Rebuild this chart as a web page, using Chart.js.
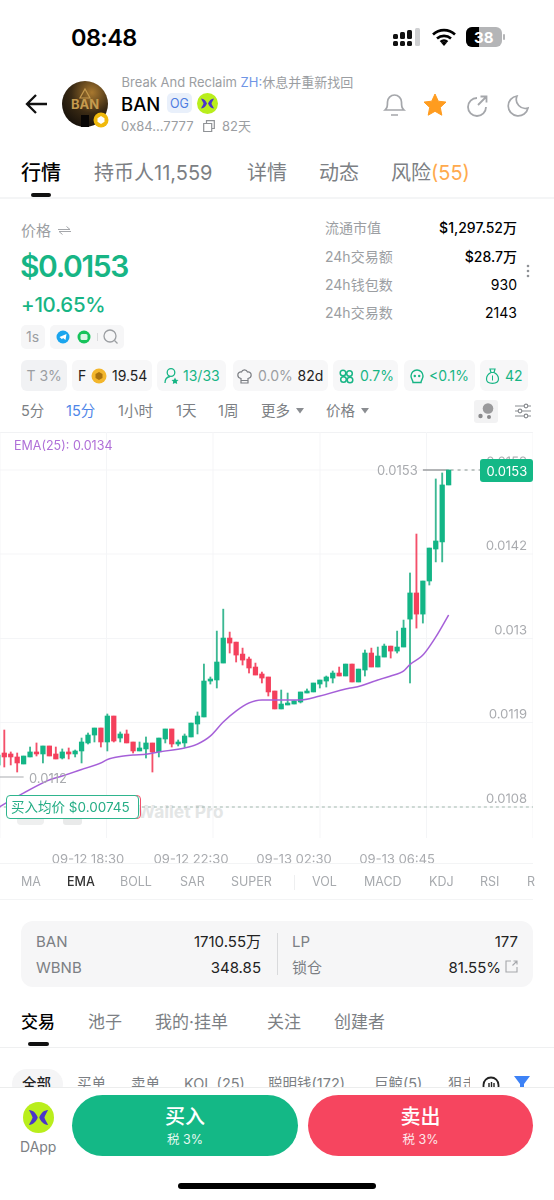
<!DOCTYPE html>
<html lang="zh"><head><meta charset="utf-8">
<script src="https://cdn.jsdelivr.net/npm/chart.js@4"></script>
<style>
html,body{margin:0;padding:0;background:#fff}
body{position:relative;width:554px;height:1200px;overflow:hidden;font-family:Inter,"Noto Sans CJK SC",sans-serif;color:#000}
.t{position:absolute;line-height:1;white-space:nowrap;transform:translateY(-50%)}
.r{position:absolute;line-height:1;white-space:nowrap;transform:translateY(-50%);text-align:right}
.g{color:#9b9ea2}.m{color:#7c7f84}.gr{color:#17b585}.b{position:absolute}
svg{position:absolute;overflow:visible}
#chartBox{position:absolute;left:0;top:432px;width:533px;height:434px}
</style></head><body>

<!-- status bar -->
<div class="t" style="left:71px;top:38px;font-size:23.5px;font-weight:600;letter-spacing:-.6px">08:48</div>
<svg style="left:393px;top:28px" width="27" height="18"><g fill="#111"><rect x="0" y="6" width="5" height="5" rx="1.5"/><rect x="7" y="4" width="5" height="7" rx="1.5"/><rect x="14" y="2" width="5" height="9" rx="1.5"/><rect x="0" y="13" width="5" height="5" rx="1.5"/><rect x="7" y="13" width="5" height="5" rx="1.5"/><rect x="14" y="13" width="5" height="5" rx="1.5"/></g><rect x="22" y="0" width="5" height="18" rx="1.5" fill="#cfd0d2"/></svg>
<svg style="left:432px;top:28px" width="24" height="18" viewBox="0 0 24 18"><path d="M1 6.5a16 16 0 0 1 22 0M5 10.5a10.5 10.5 0 0 1 14 0M8.6 14a5 5 0 0 1 6.8 0" fill="none" stroke="#000" stroke-width="2.6"/><path d="M12 18l-2.6-3a3.5 3.5 0 0 1 5.2 0z" fill="#000"/></svg>
<div class="b" style="left:466px;top:27px;width:36px;height:20px;border-radius:6px;background:#b4b5b7;overflow:hidden"><div class="b" style="left:0;top:0;width:13px;height:20px;background:#000"></div></div>
<div class="b" style="left:503px;top:34px;width:2px;height:6px;border-radius:1px;background:#b4b5b7"></div>
<div class="t" style="left:474px;top:37px;font-size:15px;font-weight:700;color:#fff">38</div>

<!-- header -->
<svg style="left:25px;top:93px" width="22" height="22" viewBox="0 0 22 22"><path d="M22 11H2M11 2l-9 9 9 9" fill="none" stroke="#111" stroke-width="2.3"/></svg>
<svg style="left:62px;top:81px" width="48" height="48" viewBox="0 0 48 48"><defs><radialGradient id="av" cx="0.65" cy="0.25" r="0.9"><stop offset="0" stop-color="#a8782f"/><stop offset="0.5" stop-color="#3a2a14"/><stop offset="1" stop-color="#0d0a08"/></radialGradient></defs><circle cx="23" cy="23" r="23" fill="url(#av)"/><text x="23" y="28" font-size="13" font-weight="700" text-anchor="middle" fill="#c59a4e" font-family="Inter">BAN</text><path d="M23 8l5 9h-10z" fill="none" stroke="#c59a4e" stroke-width="1.2"/><path d="M19 46v-12h8v12z" fill="#080605"/><circle cx="39" cy="39" r="7.5" fill="#f0b90b"/><path d="M39 35l3.5 2.2v3.6L39 43l-3.5-2.2v-3.6z" fill="#fff"/></svg>
<div class="t g" style="left:121.5px;top:82px;font-size:13px">Break And Reclaim <span style="color:#6f95e6">ZH:</span>休息并重新找回</div>
<div class="t" style="left:121px;top:104px;font-size:18.5px;font-weight:500">BAN</div>
<div class="b" style="left:167px;top:93px;width:25px;height:20px;border-radius:5px;background:#e9f0fb"></div>
<div class="t" style="left:170px;top:104px;font-size:12.5px;color:#4d7ce0">OG</div>
<svg style="left:197px;top:93px" width="21" height="21" viewBox="0 0 21 21"><circle cx="10.5" cy="10.5" r="10.5" fill="#b9ee1c"/><path d="M4 5.5c3 0 5 2.500 6 5-1 2.500-3 5-6 5 1-2 2-3.500 2.500-5C6 9 5 7.500 4 5.500zM17 5.500c-3 0-5 2.500-6 5 1 2.500 3 5 6 5-1-2-2-3.500-2.500-5 .5-1.500 1.500-3 2.500-5z" fill="#4a35c9"/></svg>
<div class="t g" style="left:121px;top:126px;font-size:13px">0x84...7777</div>
<svg style="left:203px;top:120px" width="12" height="12" viewBox="0 0 12 12"><path d="M3.500 3V.7h7.800v7.800H9M.7 3.500h8v8h-8z" fill="none" stroke="#8f9296" stroke-width="1.200"/></svg>
<div class="t g" style="left:222px;top:126px;font-size:13px">82天</div>
<svg style="left:384px;top:93px" width="21" height="23" viewBox="0 0 21 23"><path d="M1 17h19c-2-2-2.500-3-2.500-8a7 7 0 0 0-14 0c0 5-.5 6-2.500 8zM7 22h7" fill="none" stroke="#a5a7ab" stroke-width="1.700"/></svg>
<svg style="left:423px;top:93px" width="24" height="24" viewBox="0 0 24 24"><path d="M12 1l3.300 7.200 7.700.9-5.700 5.300 1.500 7.800L12 18.300 5.200 22.200l1.500-7.800L1 9.100l7.700-.9z" fill="#ff9c1f" stroke="#ff9c1f" stroke-linejoin="round"/></svg>
<svg style="left:466px;top:95px" width="22" height="22" viewBox="0 0 22 22"><path d="M11 3a9 9 0 1 0 9 9M12 10l8-8M14.500 1.500H20.500V7.500" fill="none" stroke="#a5a7ab" stroke-width="1.800"/></svg>
<svg style="left:507px;top:95px" width="22" height="22" viewBox="0 0 22 22"><path d="M10 1a10 10 0 1 0 11 12A9 9 0 0 1 10 1z" fill="none" stroke="#a5a7ab" stroke-width="1.700"/></svg>

<!-- tabs -->
<div class="t" style="left:21px;top:173px;font-size:20px;font-weight:500">行情</div>
<div class="t m" style="left:94px;top:173px;font-size:20px">持币人11,559</div>
<div class="t m" style="left:247px;top:173px;font-size:20px">详情</div>
<div class="t m" style="left:319px;top:173px;font-size:20px">动态</div>
<div class="t m" style="left:391px;top:173px;font-size:20px">风险<span style="color:#ffaa4d">(55)</span></div>
<div class="b" style="left:31px;top:193px;width:20px;height:4px;border-radius:2px;background:#111"></div>
<div class="b" style="left:0;top:197px;width:554px;height:2px;background:#f4f5f6"></div>

<!-- price -->
<div class="t g" style="left:21px;top:230px;font-size:15px">价格</div>
<svg style="left:58px;top:226px" width="13" height="9" viewBox="0 0 13 9"><path d="M0 3.500h12L8.500 .5M13 5.500H1l3.500 3" fill="none" stroke="#a5a7ab" stroke-width="1"/></svg>
<div class="t gr" style="left:20px;top:266px;font-size:30px;font-weight:600;letter-spacing:-1.4px">$0.0153</div>
<div class="t gr" style="left:21px;top:305px;font-size:20.500px;font-weight:500;letter-spacing:-.3px">+10.65%</div>
<div class="b" style="left:21px;top:325px;width:24px;height:24px;border-radius:5px;background:#f6f6f7"></div>
<div class="t g" style="left:26px;top:337px;font-size:14px">1s</div>
<div class="b" style="left:50px;top:325px;width:74px;height:24px;border-radius:5px;background:#f6f6f7"></div>
<svg style="left:50px;top:325px" width="74" height="24"><circle cx="13" cy="12" r="6.500" fill="#1aa5ee"/><path d="M9.500 12l7-3-1 6-2.500-2-1 1.200z" fill="#fff"/><circle cx="34" cy="12" r="6.500" fill="#17c35b"/><rect x="30.500" y="9" width="7" height="6" rx="1.500" fill="#fff" opacity=".85"/><rect x="47" y="8" width="1" height="8" fill="#d9dadc"/><circle cx="60" cy="11" r="6" fill="none" stroke="#9b9ea2" stroke-width="1.300"/><path d="M64.500 15.500l3 3" stroke="#9b9ea2" stroke-width="1.300"/></svg>

<div class="t g" style="left:325px;top:228px;font-size:14px">流通市值</div>
<div class="t g" style="left:325px;top:257px;font-size:14px">24h交易额</div>
<div class="t g" style="left:325px;top:285px;font-size:14px">24h钱包数</div>
<div class="t g" style="left:325px;top:313px;font-size:14px">24h交易数</div>
<div class="r" style="right:37px;top:228px;font-size:14px;font-weight:500">$1,297.52万</div>
<div class="r" style="right:37px;top:257px;font-size:14px;font-weight:500">$28.7万</div>
<div class="r" style="right:37px;top:285px;font-size:14px">930</div>
<div class="r" style="right:37px;top:313px;font-size:14px">2143</div>
<svg style="left:526px;top:264px" width="4" height="14"><g fill="#8f9296"><circle cx="2" cy="2" r="1.300"/><circle cx="2" cy="7" r="1.300"/><circle cx="2" cy="12" r="1.300"/></g></svg>

<!-- metric pills -->
<div class="b" style="left:20.500px;top:360px;width:46.500px;height:31px;border-radius:6px;background:#f1f2f4"></div>
<div class="b" style="left:72px;top:360px;width:80px;height:31px;border-radius:6px;background:#f7f7f8"></div>
<div class="b" style="left:157px;top:360px;width:69px;height:31px;border-radius:6px;background:#f7f7f8"></div>
<div class="b" style="left:232.500px;top:360px;width:95.500px;height:31px;border-radius:6px;background:#f7f7f8"></div>
<div class="b" style="left:333px;top:360px;width:64.500px;height:31px;border-radius:6px;background:#f7f7f8"></div>
<div class="b" style="left:403.500px;top:360px;width:71px;height:31px;border-radius:6px;background:#f7f7f8"></div>
<div class="b" style="left:480px;top:360px;width:47.500px;height:31px;border-radius:6px;background:#f7f7f8"></div>
<div class="t g" style="left:26.500px;top:376px;font-size:14px">T 3%</div>
<div class="t" style="left:78px;top:376px;font-size:14px;color:#222">F</div>
<svg style="left:91px;top:368px" width="16" height="16"><circle cx="8" cy="8" r="7.500" fill="#f3b62c"/><path d="M8 4l3.500 2v4L8 12 4.500 10V6z" fill="#a9720e"/></svg>
<div class="t" style="left:112px;top:376px;font-size:14px;color:#222">19.54</div>
<svg style="left:164px;top:368px" width="15" height="16" viewBox="0 0 15 16"><circle cx="7" cy="4.500" r="3.800" fill="none" stroke="#17b585" stroke-width="1.300"/><path d="M1 15c0-3.500 2-6 5-6.500" fill="none" stroke="#17b585" stroke-width="1.300"/><path d="M11 9.500l1.100 2.200 2.400.3-1.700 1.600.4 2.400-2.200-1.100-2.200 1.100.4-2.400L7.500 12l2.400-.3z" fill="#17b585"/></svg>
<div class="t gr" style="left:183px;top:376px;font-size:14px">13/33</div>
<svg style="left:237px;top:369px" width="15" height="15" viewBox="0 0 15 15"><path d="M4 14V9.500C1.500 9 .8 7.500.8 6c0-2 2-3.500 3.700-3C5 1.500 6 .8 7.500.8S10 1.500 10.500 3c1.700-.5 3.700 1 3.700 3 0 1.500-.7 3-3.200 3.500V14zM4 11.500h7" fill="none" stroke="#7c7f84" stroke-width="1.200"/></svg>
<div class="t g" style="left:258px;top:376px;font-size:14px">0.0%</div>
<div class="t" style="left:297.500px;top:376px;font-size:14px;color:#222">82d</div>
<svg style="left:338.500px;top:369px" width="15" height="15" viewBox="0 0 15 15"><g fill="none" stroke="#17b585" stroke-width="1.500"><circle cx="4" cy="4" r="2.800"/><circle cx="10.500" cy="4.500" r="2.800"/><circle cx="4.500" cy="10.500" r="2.800"/><circle cx="11" cy="11" r="2.800"/></g></svg>
<div class="t gr" style="left:360px;top:376px;font-size:14px">0.7%</div>
<svg style="left:410px;top:369px" width="14" height="15" viewBox="0 0 14 15"><path d="M7 1a6 6 0 0 1 6 6c0 3-2 4-2 6.500H3C3 11 1 10 1 7a6 6 0 0 1 6-6z" fill="none" stroke="#17b585" stroke-width="1.400"/><circle cx="4.800" cy="7" r="1.200" fill="#17b585"/><circle cx="9.200" cy="7" r="1.200" fill="#17b585"/></svg>
<div class="t gr" style="left:429px;top:376px;font-size:14px">&lt;0.1%</div>
<svg style="left:486px;top:368px" width="13" height="16" viewBox="0 0 13 16"><path d="M4 1h5L8 4.500c3 1.500 4.500 4 4.500 6.500 0 3-2 4.300-6 4.300S.5 14 .5 11C.5 8.500 2 6 5 4.500zM5 4.500h3" fill="none" stroke="#17b585" stroke-width="1.200"/><path d="M6.500 7.500v5" stroke="#17b585"/></svg>
<div class="t gr" style="left:505px;top:376px;font-size:14px">42</div>

<!-- interval row -->
<div class="t m" style="left:21px;top:411px;font-size:14.500px">5分</div>
<div class="t" style="left:66px;top:411px;font-size:14.500px;color:#4f86e8">15分</div>
<div class="t m" style="left:118px;top:411px;font-size:14.500px">1小时</div>
<div class="t m" style="left:176px;top:411px;font-size:14.500px">1天</div>
<div class="t m" style="left:218px;top:411px;font-size:14.500px">1周</div>
<div class="t m" style="left:261px;top:411px;font-size:14.500px">更多</div>
<svg style="left:296px;top:408px" width="8" height="6"><path d="M0 0h8L4 5.500z" fill="#8a8d91"/></svg>
<div class="t m" style="left:326px;top:411px;font-size:14.500px">价格</div>
<svg style="left:361px;top:408px" width="8" height="6"><path d="M0 0h8L4 5.500z" fill="#8a8d91"/></svg>
<div class="b" style="left:474px;top:400px;width:23.500px;height:23px;border-radius:3px;background:#f2f2f3"></div>
<svg style="left:474px;top:400px" width="24" height="23"><circle cx="14" cy="8.500" r="5.300" fill="#9a9a9c"/><circle cx="6.500" cy="16" r="2.200" fill="#8a8a8c"/><circle cx="15" cy="17" r="2" fill="#8a8a8c"/></svg>
<svg style="left:515px;top:403px" width="16" height="16" viewBox="0 0 16 16"><g fill="none" stroke="#8a8d91" stroke-width="1.200"><path d="M0 3h9M13 3h3M0 8h3M7 8h9M0 13h9M13 13h3"/><circle cx="11" cy="3" r="1.800"/><circle cx="5" cy="8" r="1.800"/><circle cx="11" cy="13" r="1.800"/></g></svg>
<div class="b" style="left:0;top:432px;width:533px;height:1px;background:#f1f2f4"></div>

<!-- watermark under the chart -->
<div class="t" style="left:137px;top:812px;font-size:17.500px;font-weight:700;color:#e4e6e6">Wallet Pro</div>
<div class="b" style="left:17px;top:816px;width:27px;height:9px;border-radius:4px;background:#eeefef"></div>
<div class="b" style="left:63px;top:816px;width:19px;height:9px;border-radius:3px;background:#e9eaea"></div>

<div id="chartBox"><canvas id="c" width="533" height="434"></canvas></div>

<!-- chart overlays -->
<div class="t" style="left:14px;top:446px;font-size:12.500px;color:#b070d8">EMA(25): 0.0134</div>
<div class="t" style="left:377px;top:470px;font-size:13px;color:#a9abaf">0.0153</div>
<div class="t" style="left:29px;top:778px;font-size:13px;color:#a9abaf">0.0112</div>
<div class="b" style="left:480px;top:459px;width:53px;height:23px;border-radius:3px;background:#14b886"></div>
<div class="t" style="left:486.500px;top:471px;font-size:13px;color:#fff">0.0153</div>
<div class="b" style="left:125px;top:795px;width:16px;height:24px;border:1px solid #f0506b;border-radius:4px;box-sizing:border-box"></div>
<div class="b" style="left:6px;top:795px;width:133px;height:24px;border:1.500px solid #2fb58e;border-radius:4px;background:#fff;box-sizing:border-box"></div>
<div class="t" style="left:11px;top:807.500px;font-size:13.500px;color:#25ad85">买入均价 $0.00745</div>

<!-- indicator row -->
<div class="b" style="left:0;top:863px;width:533px;height:1px;background:#f3f4f5"></div>
<div class="b" style="left:0;top:899px;width:533px;height:1px;background:#f3f4f5"></div>
<div class="t" style="left:21px;top:882px;font-size:12.500px;color:#a7aaae">MA</div>
<div class="t" style="left:67px;top:882px;font-size:12.500px;color:#333;font-weight:500">EMA</div>
<div class="t" style="left:120px;top:882px;font-size:12.500px;color:#a7aaae">BOLL</div>
<div class="t" style="left:180px;top:882px;font-size:12.500px;color:#a7aaae">SAR</div>
<div class="t" style="left:231px;top:882px;font-size:12.500px;color:#a7aaae">SUPER</div>
<div class="b" style="left:294px;top:875px;width:1px;height:15px;background:#eeeff0"></div>
<div class="t" style="left:312px;top:882px;font-size:12.500px;color:#a7aaae">VOL</div>
<div class="t" style="left:364px;top:882px;font-size:12.500px;color:#a7aaae">MACD</div>
<div class="t" style="left:429px;top:882px;font-size:12.500px;color:#a7aaae">KDJ</div>
<div class="t" style="left:480px;top:882px;font-size:12.500px;color:#a7aaae">RSI</div>
<div class="t" style="left:527px;top:882px;font-size:12.500px;color:#a7aaae">R</div>

<!-- pool card -->
<div class="b" style="left:21px;top:921px;width:512px;height:66px;border-radius:12px;background:#f6f6f7"></div>
<div class="t m" style="left:36px;top:941px;font-size:15px">BAN</div>
<div class="t m" style="left:36px;top:967px;font-size:15px">WBNB</div>
<div class="r" style="right:293px;top:941px;font-size:15px;color:#222">1710.55万</div>
<div class="r" style="right:293px;top:967px;font-size:15px;color:#222">348.85</div>
<div class="b" style="left:277px;top:933px;width:1px;height:42px;background:#d9dadc"></div>
<div class="t m" style="left:292px;top:941px;font-size:15px">LP</div>
<div class="t m" style="left:292px;top:967px;font-size:15px">锁仓</div>
<div class="r" style="right:36px;top:941px;font-size:15px;color:#222">177</div>
<div class="r" style="right:53px;top:967px;font-size:15px;color:#222">81.55%</div>
<svg style="left:505px;top:960px" width="13" height="13" viewBox="0 0 13 13"><path d="M6 1H1v11h11V7M7.500 5.500L12 1M8.500 1H12v3.500" fill="none" stroke="#a5a7ab" stroke-width="1.100"/></svg>

<!-- lower tabs -->
<div class="t" style="left:21px;top:1022px;font-size:17px;font-weight:500">交易</div>
<div class="t m" style="left:88px;top:1022px;font-size:17px">池子</div>
<div class="t m" style="left:155px;top:1022px;font-size:17px">我的·挂单</div>
<div class="t m" style="left:267px;top:1022px;font-size:17px">关注</div>
<div class="t m" style="left:334px;top:1022px;font-size:17px">创建者</div>
<div class="b" style="left:28px;top:1042px;width:21px;height:4px;border-radius:2px;background:#111"></div>
<div class="b" style="left:0;top:1047px;width:554px;height:1px;background:#eff0f1"></div>

<!-- filter row, cut off by the bottom bar -->
<div class="b" style="left:12px;top:1069px;width:51px;height:30px;border-radius:15px;background:#f5f5f6"></div>
<div class="t" style="left:22px;top:1084px;font-size:14.500px;color:#222;font-weight:500">全部</div>
<div class="t m" style="left:77px;top:1084px;font-size:14.500px">买单</div>
<div class="t m" style="left:131px;top:1084px;font-size:14.500px">卖单</div>
<div class="t m" style="left:184px;top:1084px;font-size:14.500px">KOL (25)</div>
<div class="t m" style="left:268px;top:1084px;font-size:14.500px">聪明钱(172)</div>
<div class="t m" style="left:374px;top:1084px;font-size:14.500px">巨鲸(5)</div>
<div class="t m" style="left:448px;top:1084px;font-size:14.500px;width:22px;overflow:hidden">狙击</div>
<svg style="left:482px;top:1076px" width="18" height="14" viewBox="0 0 18 14"><path d="M1.500 13V9a7.500 7.500 0 0 1 15 0v4" fill="none" stroke="#222" stroke-width="1.800"/><path d="M7 7v6M9.500 6v7M12 7v6" stroke="#222" stroke-width="1.400"/></svg>
<svg style="left:514px;top:1076px" width="16" height="12"><path d="M0 0h16L10 8v4H6V8z" fill="#3d82f6"/></svg>

<!-- bottom bar -->
<div class="b" style="left:0;top:1087px;width:554px;height:113px;background:#fff;border-top:1px solid #eceded;box-sizing:border-box"></div>
<svg style="left:23px;top:1102px" width="31" height="31" viewBox="0 0 21 21"><circle cx="10.500" cy="10.500" r="10.500" fill="#b9ee1c"/><path d="M4 5.500c3 0 5 2.500 6 5-1 2.500-3 5-6 5 1-2 2-3.500 2.500-5C6 9 5 7.500 4 5.500zM17 5.500c-3 0-5 2.500-6 5 1 2.500 3 5 6 5-1-2-2-3.500-2.500-5 .5-1.500 1.500-3 2.500-5z" fill="#4a35c9"/></svg>
<div class="t m" style="left:20px;top:1147px;font-size:14px">DApp</div>
<div class="b" style="left:72px;top:1095px;width:226px;height:61px;border-radius:31px;background:#14b886"></div>
<div class="b" style="left:308px;top:1095px;width:225px;height:61px;border-radius:31px;background:#f6455f"></div>
<div class="t" style="left:72px;width:226px;text-align:center;top:1117px;font-size:20px;font-weight:500;color:#fff">买入</div>
<div class="t" style="left:72px;width:226px;text-align:center;top:1140px;font-size:12.500px;color:#e6f8f2">税 3%</div>
<div class="t" style="left:308px;width:225px;text-align:center;top:1117px;font-size:20px;font-weight:500;color:#fff">卖出</div>
<div class="t" style="left:308px;width:225px;text-align:center;top:1140px;font-size:12.500px;color:#fde8eb">税 3%</div>
<div class="b" style="left:178px;top:1183px;width:198px;height:6px;border-radius:3px;background:#000"></div>

<script>
const opens=[0.011361,0.011521,0.011508,0.011468,0.011374,0.011468,0.011535,0.011508,0.011615,0.011508,0.011454,0.011535,0.011508,0.011548,0.011655,0.011761,0.011855,0.011668,0.012015,0.011721,0.011775,0.011668,0.011548,0.011575,0.011655,0.011535,0.011708,0.011842,0.011641,0.011655,0.011735,0.011908,0.012002,0.012482,0.012496,0.012722,0.013056,0.013002,0.012842,0.012776,0.012669,0.012576,0.012536,0.012349,0.012109,0.012162,0.012175,0.012202,0.012322,0.012336,0.012442,0.012482,0.012522,0.012589,0.012549,0.012709,0.012469,0.012629,0.012856,0.012669,0.012802,0.012949,0.012882,0.012936,0.013309,0.013658,0.013376,0.013818,0.014245,0.014339,0.015100];
const closes=[0.011494,0.011468,0.011468,0.011388,0.011481,0.011535,0.011508,0.011615,0.011481,0.011441,0.011535,0.011508,0.011548,0.011668,0.011761,0.011855,0.011668,0.012015,0.011681,0.011775,0.011655,0.011548,0.011588,0.011655,0.011535,0.011721,0.011842,0.011641,0.011668,0.011748,0.011921,0.012015,0.012482,0.012509,0.012736,0.013056,0.012989,0.012829,0.012762,0.012656,0.012562,0.012522,0.012336,0.012109,0.012175,0.012189,0.012215,0.012336,0.012349,0.012456,0.012496,0.012536,0.012589,0.012549,0.012709,0.012469,0.012642,0.012856,0.012669,0.012816,0.012949,0.012882,0.012936,0.013189,0.013658,0.013376,0.013818,0.014258,0.014352,0.015100,0.015300];
const highs=[0.011561,0.011828,0.011535,0.011521,0.011481,0.011601,0.011655,0.011615,0.011615,0.011601,0.011575,0.011588,0.011561,0.011721,0.011788,0.011855,0.011855,0.012042,0.012015,0.011802,0.011828,0.011668,0.011668,0.011735,0.011655,0.011721,0.011842,0.011842,0.011695,0.011775,0.011921,0.012069,0.012709,0.012536,0.013149,0.013442,0.013136,0.013002,0.012922,0.012802,0.012722,0.012602,0.012536,0.012349,0.012362,0.012322,0.012215,0.012336,0.012376,0.012456,0.012496,0.012549,0.012616,0.012669,0.012709,0.012709,0.012642,0.012896,0.012922,0.012936,0.012976,0.012949,0.013149,0.013296,0.013925,0.014445,0.013818,0.014258,0.015180,0.015260,0.015300];
const lows=[0.011254,0.011334,0.011361,0.011267,0.011374,0.011468,0.011481,0.011388,0.011481,0.011441,0.011441,0.011441,0.011468,0.011388,0.011641,0.011668,0.011601,0.011548,0.011668,0.011668,0.011655,0.011521,0.011548,0.011454,0.011267,0.011468,0.011655,0.011601,0.011615,0.011601,0.011735,0.011775,0.012002,0.012442,0.012389,0.012722,0.012856,0.012736,0.012696,0.012589,0.012562,0.012456,0.012282,0.012109,0.012109,0.012162,0.012175,0.012189,0.012322,0.012336,0.012389,0.012402,0.012456,0.012549,0.012549,0.012469,0.012469,0.012549,0.012669,0.012669,0.012802,0.012789,0.012856,0.012936,0.012456,0.013189,0.013256,0.013764,0.014072,0.014072,0.015100];
const emaIndex=[0,1,4,8,10,13,16,17,19,21,23,25,29,31,33,35,37,39,41,43,47,50,54,56,59,61,63,64,66,68,70];
const emaValues=[0.010787,0.010840,0.010987,0.011161,0.011214,0.011301,0.011388,0.011434,0.011474,0.011494,0.011504,0.011535,0.011588,0.011641,0.011748,0.011935,0.012082,0.012189,0.012229,0.012229,0.012229,0.012282,0.012376,0.012409,0.012496,0.012549,0.012616,0.012703,0.012829,0.013070,0.013364];
const timeIndex=[14,30,46,62];
const timeLabels=['09-12 18:30','09-12 22:30','09-13 02:30','09-13 06:45'];
const priceTicks=[0.0153,0.014175,0.01305,0.011925,0.0108];
const priceLabels=['0.0153','0.0142','0.013','0.0119','0.0108'];
const lastPrice=0.0153, lowMark=0.0112, floorPrice=0.0108;
const UP='#13b586', DOWN='#f4405c', UPW='#3cb893', DOWNW='#f4506a';

const colors=opens.map((o,i)=>closes[i]>=o?UP:DOWN);
const wickColors=opens.map((o,i)=>closes[i]>=o?UPW:DOWNW);
const line=(pts,color,dash,w)=>({type:'line',data:pts,borderColor:color,borderWidth:w,borderDash:dash,pointRadius:0,order:3});
const noPad=a=>{a.paddingTop=0;a.paddingBottom=0;a.paddingLeft=0;a.paddingRight=0;};

new Chart(document.getElementById('c'),{
  type:'bar',
  data:{datasets:[
    {type:'line',label:'EMA(25)',data:emaIndex.map((x,i)=>({x,y:emaValues[i]})),borderColor:'#a55fd8',borderWidth:1.5,pointRadius:0,cubicInterpolationMode:'monotone',order:0},
    {label:'body',data:opens.map((o,i)=>({x:i,y:[o,closes[i]]})),backgroundColor:colors,barThickness:4.6,grouped:false,order:1},
    {label:'wick',data:lows.map((l,i)=>({x:i,y:[l,highs[i]]})),backgroundColor:wickColors,barThickness:1.2,grouped:false,order:2},
    line([{x:66,y:lastPrice},{x:70,y:lastPrice}],'#9a9c9f',[],1.5),
    line([{x:70.3,y:lastPrice},{x:84,y:lastPrice}],'#7f8d88',[3,4],1),
    line([{x:0,y:lowMark},{x:4,y:lowMark}],'#a9abaf',[],1),
    line([{x:0,y:floorPrice},{x:84,y:floorPrice}],'#9db3aa',[3,3],1)
  ]},
  options:{
    responsive:false,animation:false,devicePixelRatio:2,
    layout:{padding:0},
    plugins:{legend:{display:false},tooltip:{enabled:false}},
    scales:{
      x:{type:'linear',position:'bottom',offset:false,min:0.332,max:83.1,
        grid:{display:false,offset:false},border:{display:false},
        afterBuildTicks:a=>{a.ticks=timeIndex.map(v=>({value:v}))},
        afterFit:a=>{a.height=28;noPad(a)},
        ticks:{autoSkip:false,maxRotation:0,padding:6,color:'#a9abaf',font:{family:'Inter',size:13},
          callback:v=>timeLabels[timeIndex.indexOf(v)]}},
      x2:{type:'linear',position:'top',offset:false,min:0,max:5,
        grid:{color:'#f4f5f7',drawTicks:false,offset:false},border:{display:false},
        afterFit:a=>{a.height=0;noPad(a)},
        ticks:{stepSize:1,display:false}},
      y:{type:'linear',position:'right',min:0.010386,max:0.0158074,
        grid:{color:'#f4f5f7',drawTicks:false},border:{display:false},
        afterBuildTicks:a=>{a.ticks=priceTicks.map(v=>({value:v}))},
        afterFit:a=>{a.width=0;noPad(a)},
        ticks:{mirror:true,padding:-6,labelOffset:-8,color:'#a9abaf',font:{family:'Inter',size:13},
          callback:v=>priceLabels[priceTicks.indexOf(v)]}}
    }
  }
});
</script>
</body></html>
